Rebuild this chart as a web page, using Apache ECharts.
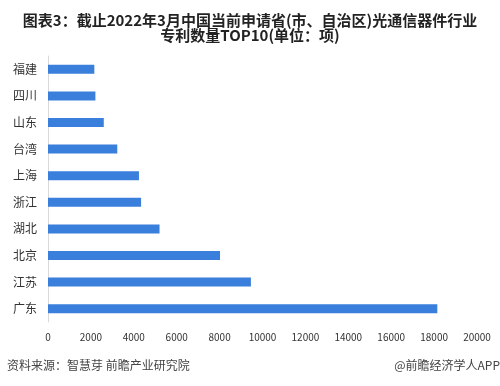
<!DOCTYPE html>
<html>
<head>
<meta charset="utf-8">
<script src="https://cdn.jsdelivr.net/npm/echarts@6/dist/echarts.min.js"></script>
<style>html,body{margin:0;padding:0;background:#fff}#c{width:500px;height:386px}</style>
</head>
<body>
<div id="c"></div>
<script>
const categories = ['福建','四川','山东','台湾','上海','浙江','湖北','北京','江苏','广东'];
const values = [2160, 2210, 2600, 3230, 4240, 4340, 5200, 8020, 9460, 18150];
const titleText = '图表3：截止2022年3月中国当前申请省(市、自治区)光通信器件行业\n专利数量TOP10(单位：项)';
const sourceText = '资料来源：智慧芽 前瞻产业研究院';
const creditText = '@前瞻经济学人APP';
const FONT = '"Noto Sans CJK SC", "Noto Sans", sans-serif';

const chart = echarts.init(document.getElementById('c'), null, {renderer: 'canvas'});
chart.setOption({
  animation: false,
  backgroundColor: '#fff',
  title: {
    text: titleText,
    left: 'center',
    top: 8,
    textStyle: {fontFamily: FONT, fontSize: 15, fontWeight: 'bold', color: '#222', lineHeight: 15}
  },
  grid: {left: 48, right: 23, top: 56, bottom: 64, containLabel: false},
  xAxis: {
    type: 'value', min: 0, max: 20000, interval: 2000,
    axisLine: {show: false}, axisTick: {show: false}, splitLine: {show: false},
    axisLabel: {fontFamily: FONT, fontSize: 10, color: '#333', margin: 10, formatter: v => String(v)}
  },
  yAxis: {
    type: 'category', data: categories, inverse: true,
    axisLine: {show: true, lineStyle: {color: '#d9d9d9', width: 1}},
    axisTick: {show: false},
    axisLabel: {fontFamily: FONT, fontSize: 12, color: '#333', margin: 11}
  },
  series: [{
    type: 'bar', data: values, barWidth: 9,
    itemStyle: {color: '#3a7fdc'}
  }],
  graphic: [
    {type: 'text', left: 7, top: 359, style: {text: sourceText, font: '12px ' + FONT, fill: '#444'}},
    {type: 'text', right: 0, top: 359, style: {text: creditText, font: '12px ' + FONT, fill: '#444'}}
  ]
});
</script>
</body>
</html>
